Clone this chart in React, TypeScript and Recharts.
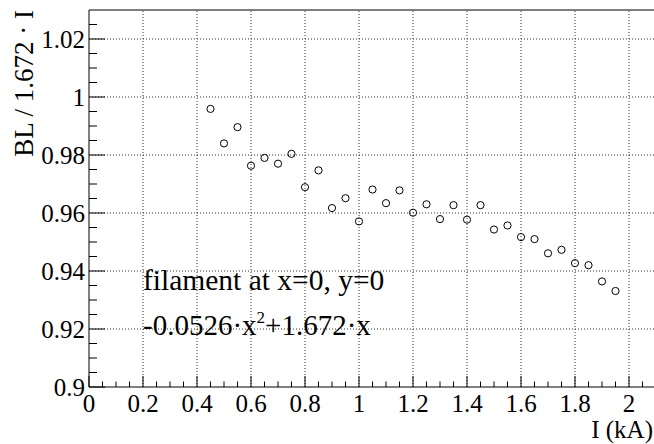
import { ScatterChart, Scatter, XAxis, YAxis, ReferenceLine } from "recharts";

// measured current (kA) and normalised field integral
const currents = [
	0.45, 0.5, 0.55, 0.6, 0.65, 0.7, 0.75, 0.8, 0.85, 0.9, 0.95, 1.0, 1.05, 1.1, 1.15, 1.2,
	1.25, 1.3, 1.35, 1.4, 1.45, 1.5, 1.55, 1.6, 1.65, 1.7, 1.75, 1.8, 1.85, 1.9, 1.95,
];
const ratios = [
	0.9959, 0.984, 0.9896, 0.9763, 0.979, 0.977, 0.9804, 0.9689, 0.9747, 0.9617, 0.9651,
	0.9571, 0.9681, 0.9634, 0.9678, 0.9601, 0.963, 0.9579, 0.9627, 0.9577, 0.9627, 0.9543,
	0.9557, 0.9517, 0.951, 0.9461, 0.9473, 0.9427, 0.942, 0.9364, 0.9331,
];

const xMajor = [0, 0.2, 0.4, 0.6, 0.8, 1, 1.2, 1.4, 1.6, 1.8, 2];
const yMajor = [0.9, 0.92, 0.94, 0.96, 0.98, 1, 1.02];
const xDomain: [number, number] = [0, 2.1];
const yDomain: [number, number] = [0.9, 1.03];

// minor ticks: 4 subdivisions per major step
const xTicks = xMajor.flatMap((m) => [m, m + 0.05, m + 0.1, m + 0.15]).filter((v) => v < 2.09);
const yTicks = yMajor.flatMap((m) => [m, m + 0.005, m + 0.01, m + 0.015]).filter((v) => v < 1.029);

const data = currents.map((x, i) => ({ x, y: ratios[i] }));

const serif = { fontFamily: "Liberation Serif, DejaVu Serif, serif" };
const isMajor = (list: number[], v: number) => list.some((m) => Math.abs(m - v) < 1e-9);
const gridStyle = { stroke: "#333", strokeDasharray: "1 2", strokeWidth: 1 };

function XTick(props: any) {
	const { x, y, payload } = props;
	const major = isMajor(xMajor, payload.value);
	return (
		<g>
			<line x1={x} x2={x} y1={y} y2={y - (major ? 11 : 5.5)} stroke="#000" />
			{major && (
				<text x={x} y={y + 24.5} textAnchor="middle" style={serif} fontSize={25} fill="#000">
					{String(payload.value)}
				</text>
			)}
		</g>
	);
}

function YTick(props: any) {
	const { x, y, payload } = props;
	const major = isMajor(yMajor, payload.value);
	return (
		<g>
			<line x1={x} x2={x + (major ? 16 : 8)} y1={y} y2={y} stroke="#000" />
			{major && (
				<text x={x - 4} y={y + 8.5} textAnchor="end" style={serif} fontSize={25} fill="#000">
					{String(payload.value)}
				</text>
			)}
		</g>
	);
}

const OpenCircle = (p: any) => (
	<circle cx={p.cx} cy={p.cy} r={3.6} fill="none" stroke="#000" strokeWidth={1} />
);

export default function App() {
	return (
		<div
			style={{
				position: "absolute",
				left: 0,
				top: 0,
				width: 654,
				height: 444,
				overflow: "hidden",
				background: "#fff",
			}}
		>
			<ScatterChart width={660} height={444} margin={{ top: 10, right: 4, bottom: 0, left: 0 }}>
				{xMajor.slice(1).map((v) => (
					<ReferenceLine key={`gx-${v}`} x={v} {...gridStyle} />
				))}
				{yMajor.slice(1).map((v) => (
					<ReferenceLine key={`gy-${v}`} y={v} {...gridStyle} />
				))}
				<ReferenceLine y={yDomain[1]} stroke="#000" strokeWidth={1} />
				<ReferenceLine x={xDomain[1]} stroke="#000" strokeWidth={1} />
				<XAxis
					type="number"
					dataKey="x"
					domain={xDomain}
					ticks={xTicks}
					interval={0}
					height={57}
					tickSize={0}
					tickMargin={0}
					tickLine={false}
					axisLine={{ stroke: "#000" }}
					tick={<XTick />}
					allowDataOverflow
				/>
				<YAxis
					type="number"
					dataKey="y"
					domain={yDomain}
					ticks={yTicks}
					interval={0}
					width={89}
					tickSize={0}
					tickMargin={0}
					tickLine={false}
					axisLine={{ stroke: "#000" }}
					tick={<YTick />}
					allowDataOverflow
				/>
				<Scatter data={data} shape={OpenCircle} isAnimationActive={false} />
			</ScatterChart>
			<svg
				width={654}
				height={444}
				style={{ position: "absolute", left: 0, top: 0, pointerEvents: "none", ...serif }}
			>
				<text transform="translate(33,10) rotate(-90)" textAnchor="end" fontSize={27} fill="#000">
					BL / 1.672 · I
				</text>
				<text x={653} y={438} textAnchor="end" fontSize={25} fill="#000">
					I (kA)
				</text>
				<text x={143} y={290} fontSize={29.5} fill="#000">
					filament at x=0, y=0
				</text>
				<text x={143} y={335} fontSize={29} fill="#000">
					-0.0526·x
					<tspan dy={-12} fontSize={17}>
						2
					</tspan>
					<tspan dy={12}>+1.672·x</tspan>
				</text>
			</svg>
		</div>
	);
}
